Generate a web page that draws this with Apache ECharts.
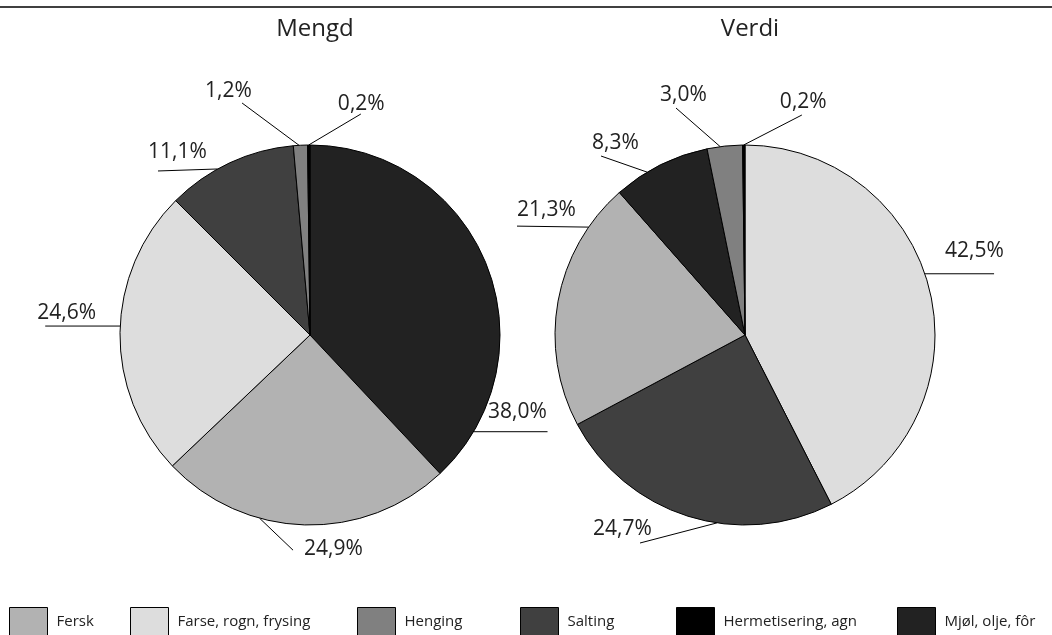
<!DOCTYPE html>
<html>
<head>
<meta charset="utf-8">
<script src="https://cdn.jsdelivr.net/npm/echarts@6/dist/echarts.min.js"></script>
<style>
html,body{margin:0;padding:0;background:#fff;}
#chart{width:1052px;height:635px;}
</style>
</head>
<body>
<div id="chart"></div>
<script>
// ---- data ----
const categories = ['Fersk', 'Farse, rogn, frysing', 'Henging', 'Salting', 'Hermetisering, agn', 'Mjøl, olje, fôr'];
const titles = ['Mengd', 'Verdi'];
const mengdNames = ['Mjøl, olje, fôr', 'Fersk', 'Farse, rogn, frysing', 'Salting', 'Henging', 'Hermetisering, agn'];
const mengdValues = [38.0, 24.9, 24.6, 11.1, 1.2, 0.2];
const verdiNames = ['Farse, rogn, frysing', 'Salting', 'Fersk', 'Mjøl, olje, fôr', 'Henging', 'Hermetisering, agn'];
const verdiValues = [42.5, 24.7, 21.3, 8.3, 3.0, 0.2];

// ---- styles / layout ----
const colorOf = {
  'Fersk': '#b2b2b2',
  'Farse, rogn, frysing': '#dddddd',
  'Henging': '#808080',
  'Salting': '#404040',
  'Hermetisering, agn': '#000000',
  'Mjøl, olje, fôr': '#222222'
};
const FONT = '"Open Sans", "Noto Sans", sans-serif';
const pieCenters = [[310, 335], [745, 335]];
const pieRadius = 190;
const legendLefts = [9, 130, 357, 520, 676, 897];
// leader style per label: a = anchor angle on rim (deg, clockwise from top),
// line = polyline points relative to anchor, text = [left, middle] relative to anchor
const leaders = [
  [
    {a: 120.6, line: [[74, 0]], text: [14.5, -20]},
    {a: 195.4, line: [[33.5, 32]], text: [44.5, 31]},
    {a: 272.7, line: [[-75, 0]], text: [-83, -13.5]},
    {a: 330.9, line: [[-59.6, 2]], text: [-69.6, -16.5]},
    {a: 356.7, line: [[-57, -42.3]], text: [-94, -54.3]},
    {a: 359.6, line: [[52.2, -31]], text: [29.2, -40.5]}
  ],
  [
    {a: 71.2, line: [[69.2, 0]], text: [20.2, -22.3]},
    {a: 188.5, line: [[-76.9, 20.1]], text: [-123.9, 6.6]},
    {a: 304.6, line: [[-71.6, -1]], text: [-71.6, -17]},
    {a: 329, line: [[-46.1, -16.1]], text: [-55.1, -29.6]},
    {a: 352.5, line: [[-44.2, -38.6]], text: [-60.2, -51.6]},
    {a: 359.6, line: [[58.2, -30]], text: [36.2, -42.5]}
  ]
];

function fmt(v) { return v.toFixed(1).replace('.', ',') + '%'; }

function makeSeries(idx, names, values) {
  return {
    type: 'pie',
    name: titles[idx],
    center: pieCenters[idx],
    radius: pieRadius,
    startAngle: 90,
    clockwise: true,
    avoidLabelOverlap: false,
    animation: false,
    itemStyle: {borderColor: '#000', borderWidth: 1},
    emphasis: {disabled: true},
    label: {
      show: true,
      position: 'outside',
      formatter: p => fmt(p.value),
      fontFamily: FONT,
      fontSize: 21,
      color: '#222'
    },
    labelLine: {show: true, lineStyle: {color: '#000', width: 1}},
    labelLayout: function (params) {
      const L = leaders[idx][params.dataIndex];
      const c = pieCenters[idx];
      const rad = L.a * Math.PI / 180;
      const ax = c[0] + pieRadius * Math.sin(rad);
      const ay = c[1] - pieRadius * Math.cos(rad);
      const pts = [[ax, ay]].concat(L.line.map(p => [ax + p[0], ay + p[1]]));
      while (pts.length < 3) pts.push(pts[pts.length - 1].slice());
      return {
        x: ax + L.text[0],
        y: ay + L.text[1],
        align: 'left',
        verticalAlign: 'middle',
        labelLinePoints: pts
      };
    },
    data: names.map((n, i) => ({name: n, value: values[i], itemStyle: {color: colorOf[n]}}))
  };
}

const chart = echarts.init(document.getElementById('chart'), null, {renderer: 'canvas'});
chart.setOption({
  backgroundColor: '#fff',
  animation: false,
  title: titles.map((t, i) => ({
    text: t,
    left: pieCenters[i][0],
    top: 12,
    textAlign: 'center',
    textStyle: {fontFamily: FONT, fontSize: 24, fontWeight: 'normal', color: '#222'}
  })),
  legend: categories.map((c, i) => ({
    data: [c],
    left: legendLefts[i],
    top: 607,
    padding: 0,
    icon: 'rect',
    itemWidth: 38,
    itemHeight: 28,
    selectedMode: false,
    itemStyle: {borderColor: '#000', borderWidth: 1},
    textStyle: {fontFamily: FONT, fontSize: 15, color: '#222', padding: [0, 0, 0, 4]}
  })),
  graphic: [{
    type: 'line',
    shape: {x1: 0, y1: 7, x2: 1052, y2: 7},
    style: {stroke: '#000', lineWidth: 1.5}
  }],
  series: [
    makeSeries(0, mengdNames, mengdValues),
    makeSeries(1, verdiNames, verdiValues)
  ]
});
</script>
</body>
</html>
